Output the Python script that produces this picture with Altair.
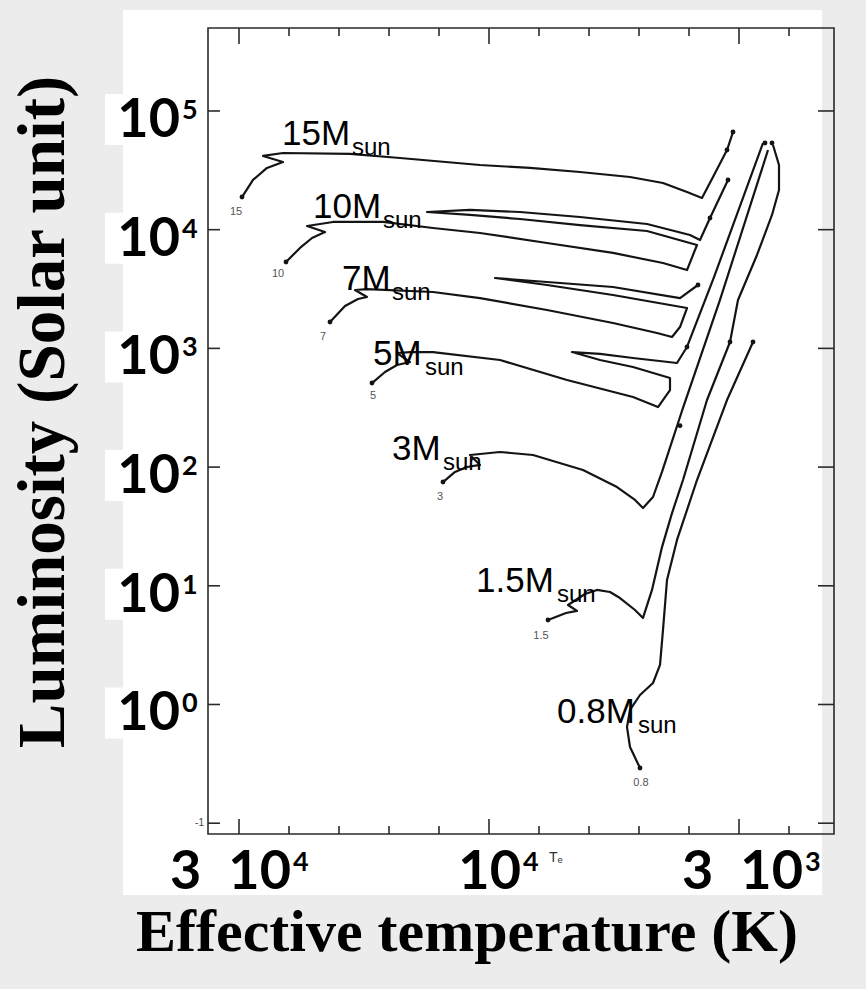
import altair as alt
import pandas as pd

# ---------------- data ----------------
# log10(Teff / K) and log10(L / Lsun) along each evolutionary track
T15 = [4.494, 4.472, 4.444, 4.412, 4.452, 4.412, 4.278, 4.178, 4.018, 3.918, 3.818, 3.718, 3.652, 3.604, 3.574, 3.552, 3.524, 3.512]
L15 = [4.275, 4.419, 4.520, 4.570, 4.621, 4.646, 4.638, 4.604, 4.545, 4.520, 4.486, 4.444, 4.393, 4.317, 4.267, 4.444, 4.671, 4.823]

T10 = [4.406, 4.378, 4.354, 4.328, 4.364, 4.312, 4.212, 4.112, 4.018, 3.884, 3.752, 3.652, 3.604, 3.584, 3.684, 3.818, 3.938, 4.038, 4.124, 4.038, 3.938, 3.818, 3.684, 3.598, 3.578, 3.558, 3.522]
L10 = [3.728, 3.846, 3.930, 3.980, 4.031, 4.065, 4.065, 4.014, 3.972, 3.888, 3.804, 3.719, 3.660, 3.871, 3.989, 4.039, 4.090, 4.124, 4.149, 4.166, 4.149, 4.107, 4.048, 3.955, 3.913, 4.098, 4.419]

T7 = [4.318, 4.288, 4.262, 4.244, 4.268, 4.244, 4.112, 4.018, 3.884, 3.752, 3.664, 3.634, 3.618, 3.604, 3.752, 3.884, 3.988, 3.884, 3.752, 3.618, 3.582]
L7 = [3.222, 3.357, 3.416, 3.433, 3.492, 3.500, 3.475, 3.424, 3.323, 3.214, 3.130, 3.096, 3.180, 3.340, 3.450, 3.534, 3.593, 3.559, 3.517, 3.424, 3.534]

T5 = [4.234, 4.208, 4.184, 4.158, 4.184, 4.158, 4.112, 3.978, 3.844, 3.712, 3.662, 3.638, 3.638, 3.712, 3.778, 3.834, 3.778, 3.712, 3.624, 3.604, 3.550, 3.452]
L5 = [2.708, 2.801, 2.860, 2.885, 2.961, 2.969, 2.969, 2.902, 2.734, 2.590, 2.506, 2.649, 2.750, 2.843, 2.902, 2.969, 2.953, 2.919, 2.877, 3.012, 3.600, 4.730]

T3 = [4.092, 4.068, 4.044, 4.018, 4.038, 3.978, 3.912, 3.812, 3.744, 3.708, 3.692, 3.672, 3.654, 3.618, 3.612, 3.538, 3.442]
L3 = [1.874, 1.959, 2.001, 2.018, 2.102, 2.127, 2.102, 1.975, 1.832, 1.723, 1.655, 1.748, 1.959, 2.422, 2.498, 3.408, 4.671]

T1p5 = [3.882, 3.846, 3.824, 3.842, 3.808, 3.784, 3.758, 3.738, 3.708, 3.692, 3.674, 3.654, 3.634, 3.612, 3.564, 3.518]
L1p5 = [0.712, 0.771, 0.788, 0.838, 0.931, 0.965, 0.948, 0.897, 0.796, 0.729, 0.965, 1.326, 1.612, 1.891, 2.565, 3.054]

T0p8 = [3.698, 3.718, 3.724, 3.718, 3.698, 3.672, 3.658, 3.652, 3.644, 3.624, 3.584, 3.524, 3.472]
L0p8 = [-0.535, -0.358, -0.190, -0.046, 0.080, 0.181, 0.333, 0.628, 1.049, 1.386, 1.891, 2.565, 3.054]

# branch from the red tip cluster bulging to the cool side
TB = [3.432, 3.420, 3.420, 3.434, 3.464, 3.502, 3.518]
LB = [4.713, 4.545, 4.334, 4.124, 3.787, 3.408, 3.054]

TRACKS = [("15", T15, L15), ("10", T10, L10), ("7", T7, L7), ("5", T5, L5),
          ("3", T3, L3), ("1.5", T1p5, L1p5), ("0.8", T0p8, L0p8), ("B", TB, LB)]

# filled dots (ZAMS starts and track ends)
DOT_T = [4.494, 3.512, 3.524, 4.406, 3.558, 3.522, 4.318, 3.582, 4.234, 3.604, 4.092, 3.882, 3.698, 3.518, 3.472, 3.618, 3.448, 3.434]
DOT_L = [4.275, 4.823, 4.671, 3.728, 4.098, 4.419, 3.222, 3.534, 2.708, 3.012, 1.874, 0.712, -0.535, 3.054, 3.054, 2.349, 4.730, 4.730]

# small mass tags printed on the scan
TAG = ["15", "10", "7", "5", "3", "1.5", "0.8"]
TAG_T = [4.506, 4.422, 4.332, 4.232, 4.098, 3.896, 3.696]
TAG_L = [4.149, 3.627, 3.096, 2.599, 1.748, 0.577, -0.662]

# overlaid mass labels "xxM" + subscript "sun"
LABEL = ["15M", "10M", "7M", "5M", "3M", "1.5M", "0.8M"]
LABEL_T = [4.414, 4.352, 4.294, 4.232, 4.194, 4.026, 3.864]
LABEL_L = [4.713, 4.098, 3.492, 2.860, 2.060, 0.948, -0.156]
SUB_T = [4.274, 4.212, 4.194, 4.128, 4.092, 3.864, 3.702]

# axes
DECADES = [5, 4, 3, 2, 1, 0]
Y_EXP = ["5", "4", "3", "2", "1", "0"]
Y_TICKS = [5, 4, 3, 2, 1, 0, -1]
X_MINOR = [4.4, 4.3, 4.2, 4.1, 3.9, 3.8, 3.7, 3.6, 3.4]
X_MAJOR = [4.5, 4.0, 3.5]
BOT_MAIN = ["3\u200210", "10", "3\u200210"]
BOT_EXP = ["4", "4", "3"]
BOT_T = [4.396, 3.936, 3.372]

# ---------------- chart ----------------
W, H = 626, 806
xs = alt.Scale(domain=[3.310, 4.562], reverse=True, nice=False, zero=False)
ys = alt.Scale(domain=[-1.091, 5.699], nice=False, zero=False)


def X(f="logT"):
    return alt.X(f + ":Q", scale=xs, axis=None)


def Y(f="logL"):
    return alt.Y(f + ":Q", scale=ys, axis=None)


one = pd.DataFrame({"a": [0]})
tracks_df = pd.DataFrame([dict(track=n, k=i, logT=t, logL=l)
                          for n, ts, ls in TRACKS for i, (t, l) in enumerate(zip(ts, ls))])
dots_df = pd.DataFrame({"logT": DOT_T, "logL": DOT_L})
tags_df = pd.DataFrame({"tag": TAG, "logT": TAG_T, "logL": TAG_L})
lab_df = pd.DataFrame({"lab": LABEL, "logT": LABEL_T, "logL": LABEL_L, "subT": SUB_T})
dec_df = pd.DataFrame({"logL": DECADES, "exp": Y_EXP})
yt_df = pd.DataFrame({"logL": Y_TICKS})
xmin_df = pd.DataFrame({"logT": X_MINOR})
xmaj_df = pd.DataFrame({"logT": X_MAJOR})
bot_df = pd.DataFrame({"lab": BOT_MAIN, "exp": BOT_EXP, "logT": BOT_T})

ink = "#141414"

panel = alt.Chart(one).mark_rect(color="white").encode(
    x=alt.value(-85), x2=alt.value(614), y=alt.value(-18), y2=alt.value(867))

boxes = alt.Chart(dec_df).transform_calculate(
    top="datum.logL + 17/118.7", bot="datum.logL - 34/118.7"
).mark_rect(color="white").encode(
    x=alt.value(-103), x2=alt.value(-2), y=Y("top"), y2="bot:Q")

frame = alt.Chart(one).mark_rect(filled=False, stroke="#2a2a2a", strokeWidth=1.6).encode(
    x=alt.value(0), x2=alt.value(W), y=alt.value(0), y2=alt.value(H))

tick_style = dict(color="#2a2a2a", strokeWidth=1.6)
top_min = alt.Chart(xmin_df).mark_rule(**tick_style).encode(x=X(), y=alt.value(0), y2=alt.value(8))
top_maj = alt.Chart(xmaj_df).mark_rule(**tick_style).encode(x=X(), y=alt.value(0), y2=alt.value(16))
bot_min = alt.Chart(xmin_df).mark_rule(**tick_style).encode(x=X(), y=alt.value(H), y2=alt.value(H - 8))
bot_maj = alt.Chart(xmaj_df).mark_rule(**tick_style).encode(x=X(), y=alt.value(H), y2=alt.value(H - 15))
left_t = alt.Chart(yt_df).mark_rule(**tick_style).encode(y=Y(), x=alt.value(0), x2=alt.value(12))
right_t = alt.Chart(yt_df).mark_rule(**tick_style).encode(y=Y(), x=alt.value(W - 16), x2=alt.value(W))

lines = alt.Chart(tracks_df).mark_line(color=ink, strokeWidth=2.2, strokeJoin="round").encode(
    x=X(), y=Y(), detail="track:N", order="k:Q")

dots = alt.Chart(dots_df).mark_circle(color=ink, size=24, opacity=1).encode(x=X(), y=Y())

tags = alt.Chart(tags_df).mark_text(font="Liberation Sans", fontSize=11, color="#555555",
                                    baseline="middle", align="center").encode(
    x=X(), y=Y(), text="tag:N")

lab_main = alt.Chart(lab_df).mark_text(font="Liberation Sans", fontSize=35, color="black",
                                       align="left", baseline="alphabetic").encode(
    x=X(), y=Y(), text="lab:N")
lab_sub = alt.Chart(lab_df).mark_text(font="Liberation Sans", fontSize=24, color="black",
                                      align="left", baseline="alphabetic", dy=10).encode(
    x=X("subT"), y=Y(), text=alt.value("sun"))

dec_main = alt.Chart(dec_df).mark_text(font="Lato", fontWeight="bold", fontSize=54, color="black",
                                       align="right", baseline="alphabetic", dy=26).encode(
    x=alt.value(-28), y=Y(), text=alt.value("10"))
dec_exp = alt.Chart(dec_df).mark_text(font="Lato", fontWeight="bold", fontSize=27, color="black",
                                      align="left", baseline="top", dy=-13).encode(
    x=alt.value(-26), y=Y(), text="exp:N")

bot_main = alt.Chart(bot_df).mark_text(font="Lato", fontWeight="bold", fontSize=54, color="black",
                                       align="right", baseline="alphabetic").encode(
    x=X(), y=alt.value(861), text="lab:N")
bot_exp = alt.Chart(bot_df).mark_text(font="Lato", fontWeight="bold", fontSize=27, color="black",
                                      align="left", baseline="top", dx=2).encode(
    x=X(), y=alt.value(822), text="exp:N")
te = alt.Chart(one).mark_text(font="Liberation Sans", fontSize=14, color="#333333",
                              align="left", baseline="alphabetic").encode(
    x=alt.value(341), y=alt.value(834), text=alt.value("T\u2091"))
minus1 = alt.Chart(one).mark_text(font="Liberation Sans", fontSize=10, color="#444444",
                                  align="right", baseline="middle").encode(
    x=alt.value(-4), y=alt.value(795), text=alt.value("-1"))

xtitle = alt.Chart(one).mark_text(font="Liberation Serif", fontWeight="bold", fontSize=60,
                                  color="black", align="center", baseline="alphabetic").encode(
    x=alt.value(259), y=alt.value(923), text=alt.value("Effective temperature (K)"))
ytitle = alt.Chart(one).mark_text(font="Liberation Serif", fontWeight="bold", fontSize=67,
                                  color="black", align="center", baseline="alphabetic",
                                  angle=270).encode(
    x=alt.value(-144), y=alt.value(384), text=alt.value("Luminosity (Solar unit)"))

chart = alt.layer(
    panel, boxes, frame, top_min, top_maj, bot_min, bot_maj, left_t, right_t,
    lines, dots, tags, lab_main, lab_sub, dec_main, dec_exp, bot_main, bot_exp,
    te, minus1, xtitle, ytitle
).properties(
    width=W, height=H,
    padding={"left": 208, "top": 28, "right": 32, "bottom": 155},
    autosize=alt.AutoSizeParams(type="none"),
    background="#ececec",
).configure_view(stroke=None)

chart.save("out.html", embed_options={"renderer": "svg", "actions": False})
